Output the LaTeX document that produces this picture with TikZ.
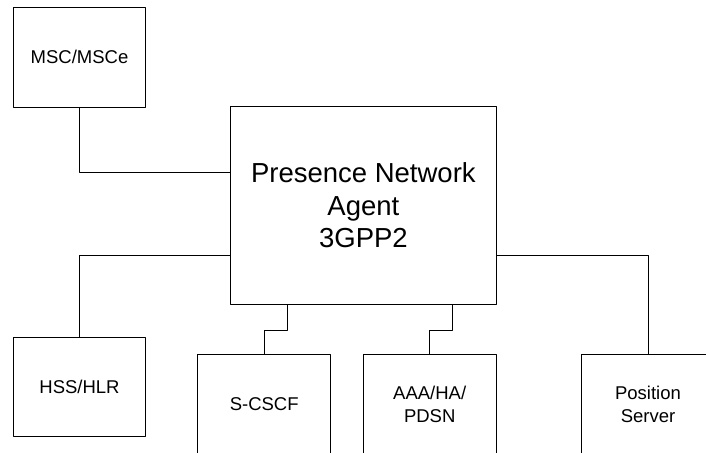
\documentclass[tikz,border=0pt]{standalone}
\usepackage{fontspec}
\setmainfont{Liberation Sans}
\begin{document}
\begin{tikzpicture}[x=1bp,y=-1bp, line join=round, line cap=round, line width=0.8bp,
	box/.style={draw, rectangle, inner sep=0pt, minimum width=132.7bp, minimum height=100bp, align=center, font=\fontsize{18.5bp}{22.5bp}\selectfont}]
			\def\w{706} \def\h{453} % Khung
			\def\yb{404.3} \def\yj{330}
			\useasboundingbox (0,0) rectangle (\w,\h);
			\clip (0,0) rectangle (\w,\h);
			\node[box] (msc) at (79.5,57) {MSC/MSCe};
			\node[box, minimum width=265.3bp, minimum height=197.3bp, font=\fontsize{27.5bp}{32.5bp}\selectfont] (pna) at (363.4,205.4) {Presence Network\\Agent\\3GPP2};
			\node[box, minimum height=99bp] (hss) at (79.5,387.2) {HSS/HLR};
			\node[box] (scscf) at (264.2,\yb) {S-CSCF};
			\node[box] (aaa) at (429.7,\yb) {AAA/HA/\\PDSN};
			\node[box] (pos) at (648,\yb) {Position\\Server};
			\coordinate (j1) at (287,\yj);
			\coordinate (j2) at (452.3,\yj);
			\draw (msc.south) |- ([yshift=32.5bp]pna.west);
			\draw ([yshift=-49.6bp]pna.west) -| (hss.north);
			\draw ([yshift=-49.6bp]pna.east) -| (pos.north);
			\draw (pna.south -| j1) -- (j1) -| (scscf.north);
			\draw (pna.south -| j2) -- (j2) -| (aaa.north);
\end{tikzpicture}
\end{document}
